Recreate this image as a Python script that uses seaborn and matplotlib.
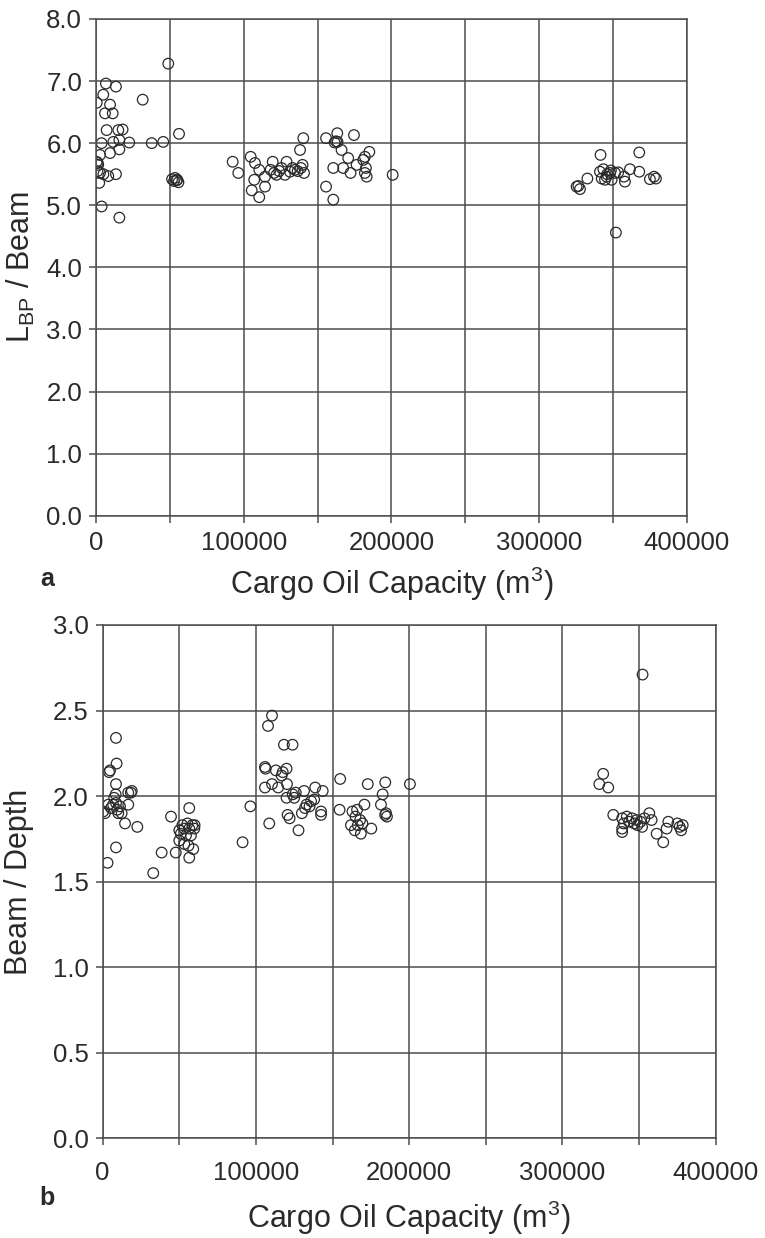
import numpy as np
import pandas as pd
import matplotlib
matplotlib.use("Agg")
import matplotlib.pyplot as plt
import seaborn as sns

# ---------------------------------------------------------
# DATA
# ---------------------------------------------------------

# panel a: cargo oil capacity (m3) vs LBP / Beam
cap_a = [
    500, 450, 1500, 2700, 2700, 2200, 3800, 3800, 4900, 6100, 6700, 7200,
    8300, 9500, 9500, 11300, 11700, 13500, 13500, 15100, 15800, 15800,
    15800, 18000, 22500, 5000, 1000, 1200,
    31600, 37700, 45500, 48900, 56200,
    51500, 52800, 54500, 55800, 53500, 55000,
    92500, 96300, 104700, 107600, 107100, 105400, 110500, 114400, 110500,
    114400, 119600, 118200, 122200, 125600, 129000, 127900, 131300, 134700,
    136500, 138700, 138100, 140300, 139800, 140800, 124000, 133000, 120500,
    155700, 155700, 160600, 160600, 161500, 162500, 163500, 163300, 166200,
    167300, 170700, 172300, 174600, 176400, 180900, 182000, 182700, 182000,
    185000, 183200, 200800,
    341500, 367700, 325300, 327600, 326500, 332600, 341100, 343400, 342300,
    344500, 347900, 351300, 353500, 358000, 357400, 361400, 367700, 374900,
    379000, 377700, 351900, 345600, 349000, 346000, 348500,
]
lbp_beam = [
    6.65, 5.70, 5.65, 5.81, 5.52, 5.36, 4.98, 6.00, 6.78, 6.48, 6.96, 6.21,
    5.47, 6.62, 5.84, 6.48, 6.02, 6.91, 5.50, 6.21, 6.05, 5.90,
    4.80, 6.22, 6.01, 5.50, 5.55, 5.68,
    6.70, 6.00, 6.02, 7.28, 6.15,
    5.42, 5.39, 5.40, 5.37, 5.44, 5.41,
    5.70, 5.52, 5.78, 5.68, 5.41, 5.24, 5.13, 5.30, 5.57,
    5.46, 5.70, 5.57, 5.49, 5.60, 5.70, 5.49, 5.54, 5.57,
    5.55, 5.60, 5.89, 6.08, 5.65, 5.52, 5.55, 5.60, 5.52,
    5.30, 6.08, 5.09, 5.60, 6.01, 6.03, 6.02, 6.16, 5.89,
    5.60, 5.76, 5.52, 6.13, 5.65, 5.73, 5.78, 5.60, 5.52,
    5.86, 5.46, 5.49,
    5.81, 5.85, 5.30, 5.26, 5.31, 5.43, 5.54, 5.58, 5.43,
    5.41, 5.52, 5.52, 5.53, 5.38, 5.46, 5.58, 5.54, 5.42,
    5.43, 5.46, 4.56, 5.46, 5.41, 5.50, 5.56,
]

# panel b: cargo oil capacity (m3) vs Beam / Depth
cap_b = [
    8700, 9100, 4800, 4200, 8700, 8500, 16700, 18400, 19000, 6800, 8700,
    11300, 3700, 400, 1500, 5400, 10200, 12400, 16700, 14600, 22600, 8700,
    3200, 9500, 7500,
    33000, 38500, 44600, 47700, 56500, 52000, 55300, 58500, 50000, 53300,
    56500, 59800, 51000, 54400, 57600, 60000, 50000, 53300, 56000, 59100,
    56500,
    91300, 96400, 110500, 107900, 118300, 123900, 105900, 106300, 105900,
    110500, 113000, 117500, 120000, 116800, 120300, 114500, 108700, 124000,
    125000, 126000, 131400, 120000, 120700, 122000, 127800, 130000, 133000,
    135000, 136000, 138000, 138700, 143600, 142500, 142500, 132000,
    155000, 154600, 163000, 165000, 166000, 162000, 164500, 166500, 168000,
    169500, 168500, 170800, 173000, 175300, 181600, 182700, 184400, 184300,
    184900, 185500, 200500,
    352300, 326600, 324100, 329900, 333200, 339000, 340000, 339000, 339000,
    342000, 343500, 345500, 347000, 348500, 351000, 353500, 349000, 352000,
    356700, 358200, 361500, 365800, 369100, 368000, 375000, 376500, 377500,
    378500,
]
beam_depth = [
    2.34, 2.19, 2.15, 2.14, 2.07, 2.01, 2.02, 2.02, 2.03, 1.95, 1.96,
    1.94, 1.95, 1.91, 1.90, 1.93, 1.90, 1.90, 1.95, 1.84, 1.82, 1.70,
    1.61, 1.92, 1.99,
    1.55, 1.67, 1.88, 1.67, 1.93, 1.83, 1.84, 1.83, 1.80, 1.81,
    1.81, 1.81, 1.78, 1.77, 1.77, 1.83, 1.74, 1.72, 1.71, 1.69,
    1.64,
    1.73, 1.94, 2.47, 2.41, 2.30, 2.30, 2.17, 2.16, 2.05,
    2.07, 2.15, 2.14, 2.16, 2.12, 2.07, 2.05, 1.84, 2.01,
    1.99, 2.02, 2.03, 1.99, 1.89, 1.87, 1.80, 1.90, 1.95,
    1.94, 1.97, 1.98, 2.05, 2.03, 1.91, 1.89, 1.93,
    2.10, 1.92, 1.91, 1.88, 1.92, 1.83, 1.80, 1.83, 1.86,
    1.84, 1.78, 1.95, 2.07, 1.81, 1.95, 2.01, 2.08, 1.89,
    1.90, 1.88, 2.07,
    2.71, 2.13, 2.07, 2.05, 1.89, 1.87, 1.84, 1.81, 1.79,
    1.88, 1.85, 1.87, 1.84, 1.86, 1.85, 1.87, 1.83, 1.82,
    1.90, 1.86, 1.78, 1.73, 1.85, 1.81, 1.84, 1.82, 1.80,
    1.83,
]

x_ticks = list(range(0, 400001, 50000))
x_labels = [str(t) if t % 100000 == 0 else "" for t in x_ticks]

df_a = pd.DataFrame({"cap": cap_a, "ratio": lbp_beam})
df_b = pd.DataFrame({"cap": cap_b, "ratio": beam_depth})

# ---------------------------------------------------------
# STYLE
# ---------------------------------------------------------

sns.set_theme(style="ticks")
plt.rcParams["font.family"] = ["Liberation Sans", "DejaVu Sans"]
plt.rcParams["mathtext.default"] = "regular"

LINE = "#4d4d4d"
TEXT = "#2a2a2a"
TICK_FS = 18.5
LABEL_FS = 22


def style_axes(ax, yticks, ylim):
    ax.set_xlim(0, 400000)
    ax.set_ylim(*ylim)
    ax.set_xticks(x_ticks, labels=x_labels)
    ax.set_yticks(yticks, labels=[f"{v:.1f}" for v in yticks])
    ax.grid(True, color=LINE, linewidth=1.1)
    ax.set_axisbelow(True)
    for sp in ax.spines.values():
        sp.set_visible(True)
        sp.set_color(LINE)
        sp.set_linewidth(1.1)
    ax.tick_params(axis="both", direction="out", length=5, width=1.1,
                   color=LINE, labelsize=TICK_FS, labelcolor=TEXT)


fig = plt.figure(figsize=(7.65, 12.38), dpi=100)
ax1 = fig.add_axes([0.1255, 0.5834, 0.7725, 0.4013])
ax2 = fig.add_axes([0.1342, 0.0805, 0.8013, 0.4147])

scatter_kw = dict(marker="o", s=58, facecolors="none", edgecolor="#2a2a2a",
                  linewidth=0.9, legend=False)

# panel a
sns.scatterplot(data=df_a, x="cap", y="ratio", ax=ax1, **scatter_kw)
style_axes(ax1, np.arange(0, 8.01, 1.0), (0, 8))
ax1.tick_params(axis="x", pad=6)
ax1.tick_params(axis="y", pad=5)
ax1.set_xlabel("Cargo Oil Capacity (m$^3$)", fontsize=LABEL_FS, color=TEXT)
ax1.set_ylabel("L$_{BP}$ / Beam", fontsize=LABEL_FS, color=TEXT)
ax1.xaxis.set_label_coords(0.5, -0.098)
ax1.yaxis.set_label_coords(-0.10, 0.5)

# panel b
sns.scatterplot(data=df_b, x="cap", y="ratio", ax=ax2, **scatter_kw)
style_axes(ax2, np.arange(0, 3.01, 0.5), (0, 3))
ax2.tick_params(axis="x", pad=11)
ax2.tick_params(axis="y", pad=5)
ax2.set_xlabel("Cargo Oil Capacity (m$^3$)", fontsize=LABEL_FS, color=TEXT)
ax2.set_ylabel("Beam / Depth", fontsize=LABEL_FS, color=TEXT)
ax2.xaxis.set_label_coords(0.5, -0.118)
ax2.yaxis.set_label_coords(-0.112, 0.5)

fig.text(0.052, 1 - 586 / 1238, "a", fontsize=18, fontweight="bold", color=TEXT)
fig.text(0.052, 1 - 1205 / 1238, "b", fontsize=18, fontweight="bold", color=TEXT)

fig.savefig("out.png", dpi=100)
